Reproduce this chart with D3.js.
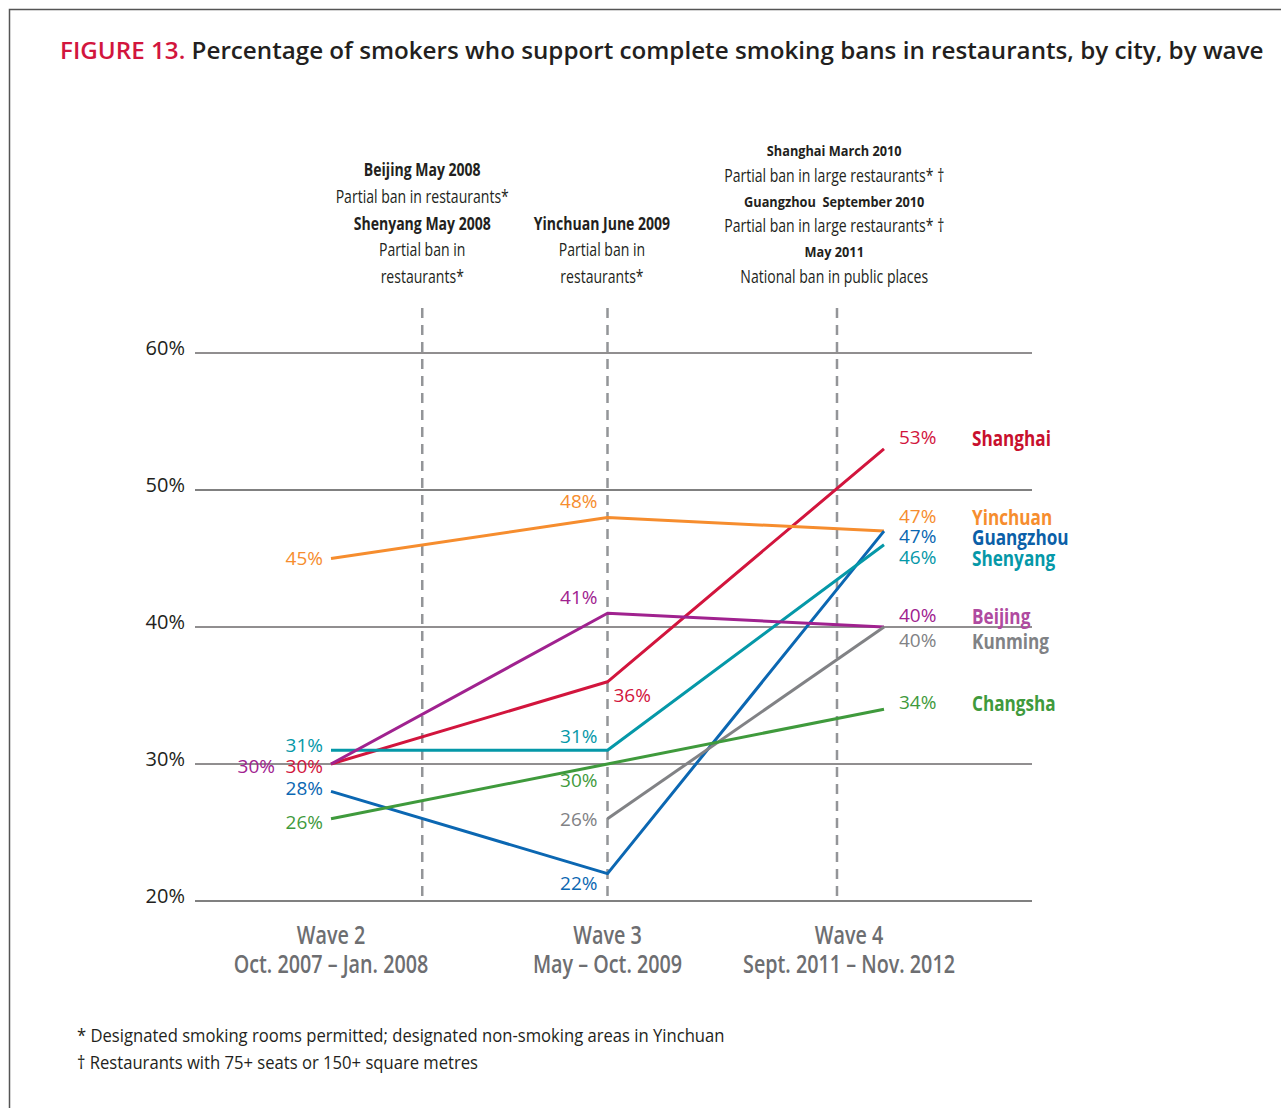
<!DOCTYPE html>
<html>
<head>
<meta charset="utf-8">
<script src="https://cdn.jsdelivr.net/npm/d3@7"></script>
<style>
  body { margin: 0; background: #fff; }
  text { font-family: "Open Sans", "Noto Sans", sans-serif; }
</style>
</head>
<body>
<script>
// data
let waves = ["Wave 2", "Wave 3", "Wave 4"];
let wave_dates = ["Oct. 2007 – Jan. 2008", "May – Oct. 2009", "Sept. 2011 – Nov. 2012"];
let cities = ["Shanghai", "Yinchuan", "Guangzhou", "Shenyang", "Beijing", "Kunming", "Changsha"];
let shanghai = [30, 36, 53];
let yinchuan = [45, 48, 47];
let guangzhou = [28, 22, 47];
let shenyang = [31, 31, 46];
let beijing = [30, 41, 40];
let kunming = [null, 26, 40];
let changsha = [26, 30, 34];
let y_ticks = [20, 30, 40, 50, 60];
// policy events, placed on the wave index axis
let policy_pos = [0.33, 1.0, 1.83];

let series = [shanghai, yinchuan, guangzhou, shenyang, beijing, kunming, changsha];
let colors = ["#d2153d", "#f68d2e", "#0b67b2", "#0598a8", "#a0228f", "#818285", "#3f9a3c"];
let name_colors = ["#c8102e", "#f68d2e", "#0b5fa8", "#0598a8", "#b04aa0", "#808285", "#3f9a3c"];

// label placement per city / wave: [dx, dy, anchor]
let place = {
    Shanghai:  [[-8, 3, "end"], [6, 14, "start"], [15, -11, "start"]],
    Yinchuan:  [[-8, 0, "end"], [-10, -15, "end"], [15, -14, "start"]],
    Guangzhou: [[-8, -2, "end"], [-10, 10, "end"], [15, 6, "start"]],
    Shenyang:  [[-8, -4, "end"], [-10, -13, "end"], [15, 13, "start"]],
    Beijing:   [[-56, 3, "end"], [-10, -15, "end"], [15, -11, "start"]],
    Kunming:   [null, [-10, 1, "end"], [15, 14, "start"]],
    Changsha:  [[-8, 4, "end"], [-10, 17, "end"], [15, -6, "start"]]
};

let width = 1281, height = 1108;

let svg = d3.select("body").append("svg")
    .attr("width", width)
    .attr("height", height);

let x = d3.scaleLinear().domain([0, 2]).range([331, 884]);
let y = d3.scaleLinear().domain([20, 60]).range([901, 353]);

// narrow text: no condensed face installed, so squeeze horizontally
function narrow(parent, tx, ty, sx){
    return parent.append("g")
        .attr("transform", "translate(" + tx + "," + ty + ") scale(" + sx + ",1)")
        .append("text");
}

// frame
svg.append("path")
    .attr("d", "M9.5," + height + " V9.5 H" + width)
    .attr("fill", "none")
    .attr("stroke", "#555")
    .attr("stroke-width", 1.5);

// title
let title = svg.append("text")
    .attr("x", 60)
    .attr("y", 59)
    .attr("font-size", 24.2)
    .attr("font-weight", 600)
    .attr("fill", "#231f20");
title.append("tspan").attr("fill", "#d2153d").text("FIGURE 13.");
title.append("tspan").text(" Percentage of smokers who support complete smoking bans in restaurants, by city, by wave");

// grid
let grid = svg.append("g");
grid.selectAll("line")
    .data(y_ticks)
    .enter()
    .append("line")
    .attr("x1", 195)
    .attr("x2", 1032)
    .attr("y1", d => y(d))
    .attr("y2", d => y(d))
    .attr("stroke", d => (d === 50 || d === 20) ? "#808080" : "#231f20")
    .attr("stroke-width", d => (d === 50 || d === 20) ? 2 : 1);

grid.selectAll("text")
    .data(y_ticks)
    .enter()
    .append("text")
    .attr("x", 185)
    .attr("y", d => y(d) + 2)
    .attr("text-anchor", "end")
    .attr("font-size", 20)
    .attr("fill", "#231f20")
    .text(d => d + "%");

// policy lines
svg.append("g").selectAll("line")
    .data(policy_pos)
    .enter()
    .append("line")
    .attr("x1", d => x(d))
    .attr("x2", d => x(d))
    .attr("y1", 308)
    .attr("y2", y(20))
    .attr("stroke", "#939598")
    .attr("stroke-width", 2.5)
    .attr("stroke-dasharray", "10,7");

// policy annotations
let notes = [
    [0.33, [["Beijing May 2008", 1, 170], ["Partial ban in restaurants*", 0, 197], ["Shenyang May 2008", 1, 224], ["Partial ban in", 0, 250], ["restaurants*", 0, 277]]],
    [0.98, [["Yinchuan June 2009", 1, 224], ["Partial ban in", 0, 250], ["restaurants*", 0, 277]]],
    [1.82, [["Shanghai March 2010", 2, 150], ["Partial ban in large restaurants* †", 0, 176], ["Guangzhou  September 2010", 2, 201], ["Partial ban in large restaurants* †", 0, 226], ["May 2011", 2, 251], ["National ban in public places", 0, 277]]]
];
notes.forEach(function(n){
    let g = svg.append("g");
    n[1].forEach(function(d){
        narrow(g, x(n[0]), d[2] + 6, d[1] === 2 ? 0.85 : 0.78)
            .attr("text-anchor", "middle")
            .attr("font-size", d[1] === 2 ? 15 : 18)
            .attr("font-weight", d[1] ? "bold" : "normal")
            .attr("fill", "#231f20")
            .style("white-space", "pre")
            .text(d[0]);
    });
});

// lines
let line = d3.line()
    .defined(d => d !== null)
    .x((d, i) => x(i))
    .y(d => y(d));

svg.append("g").selectAll("path")
    .data(series)
    .enter()
    .append("path")
    .attr("d", d => line(d))
    .attr("fill", "none")
    .attr("stroke", (d, i) => colors[i])
    .attr("stroke-width", 3)
    .attr("stroke-linejoin", "round");

// value labels
let labels = svg.append("g");
series.forEach(function(s, ci){
    let p = place[cities[ci]];
    s.forEach(function(v, wi){
        if(v === null) return;
        labels.append("text")
            .attr("x", x(wi) + p[wi][0])
            .attr("y", y(v) + p[wi][1] + 6)
            .attr("text-anchor", p[wi][2])
            .attr("font-size", 19)
            .attr("fill", colors[ci])
            .text(v + "%");
    });
    // city names
    narrow(labels, 972, y(s[2]) + p[2][1] + 8, 0.78)
        .attr("font-size", 22)
        .attr("font-weight", "bold")
        .attr("fill", name_colors[ci])
        .text(cities[ci]);
});

// x labels
let xl = svg.append("g");
waves.forEach(function(w, i){
    let cx = x(i) + (i === 2 ? -35 : 0);
    narrow(xl, cx, 944, 0.76)
        .attr("text-anchor", "middle")
        .attr("font-size", 26)
        .attr("font-weight", 600)
        .attr("fill", "#6d6e71")
        .text(w);
    narrow(xl, cx, 973, 0.76)
        .attr("text-anchor", "middle")
        .attr("font-size", 26)
        .attr("font-weight", 600)
        .attr("fill", "#6d6e71")
        .text(wave_dates[i]);
});

// footnotes
let foot = ["* Designated smoking rooms permitted; designated non-smoking areas in Yinchuan",
            "† Restaurants with 75+ seats or 150+ square metres"];
let fg = svg.append("g");
foot.forEach(function(f, i){
    narrow(fg, 77, 1042 + i * 27, 0.875)
        .attr("font-size", 19)
        .attr("fill", "#231f20")
        .text(f);
});
</script>
</body>
</html>
